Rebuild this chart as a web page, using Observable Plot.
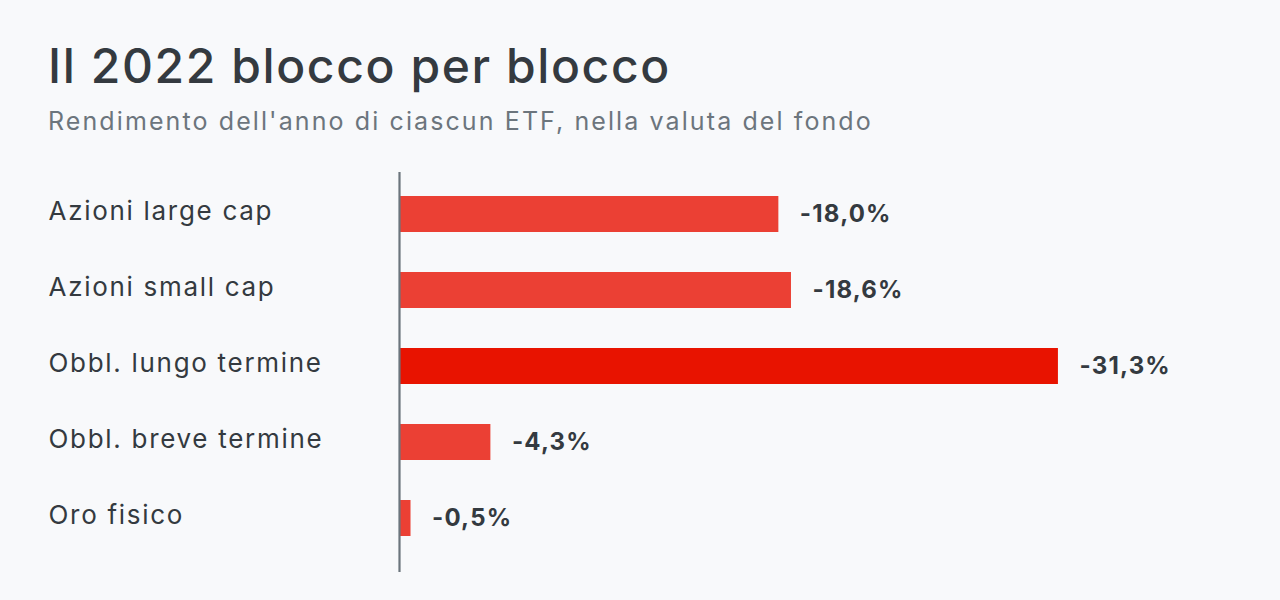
<!DOCTYPE html>
<html>
<head>
<meta charset="utf-8">
<script src="https://cdn.jsdelivr.net/npm/d3@7"></script>
<script src="https://cdn.jsdelivr.net/npm/@observablehq/plot@0.6"></script>
<style>
  html, body { margin: 0; padding: 0; background: #f8f9fb; }
  body { width: 1280px; height: 600px; position: relative; overflow: hidden; font-family: Inter, "Open Sans", sans-serif; }
  #title { position: absolute; left: 48px; top: 37px; font-size: 48px; line-height: 58px; font-weight: 500; color: #343a40; white-space: nowrap; letter-spacing: 1.6px; }
  #subtitle { position: absolute; left: 48px; top: 106px; font-size: 25px; line-height: 30px; font-weight: 400; color: #6c757d; white-space: nowrap; letter-spacing: 2.1px; }
  #chart { position: absolute; left: 0; top: 172px; }
</style>
</head>
<body>
<div id="title">Il 2022 blocco per blocco</div>
<div id="subtitle">Rendimento dell'anno di ciascun ETF, nella valuta del fondo</div>
<div id="chart"></div>
<script>
const categories = ["Azioni large cap", "Azioni small cap", "Obbl. lungo termine", "Obbl. breve termine", "Oro fisico"];
const returns = [-18.0, -18.6, -31.3, -4.3, -0.5];
const valueLabels = ["-18,0%", "-18,6%", "-31,3%", "-4,3%", "-0,5%"];

const data = categories.map((c, i) => ({
  cat: c,
  value: returns[i],
  mag: Math.abs(returns[i]),
  label: valueLabels[i],
  worst: Math.abs(returns[i]) === d3.max(returns, v => Math.abs(v))
}));

const chart = Plot.plot({
  width: 1280,
  height: 400,
  marginTop: 24,
  marginBottom: 36,
  marginLeft: 400,
  marginRight: 0,
  style: { background: "transparent", fontFamily: "Inter, sans-serif", overflow: "visible" },
  x: { domain: [0, 35], range: [400, 400 + 35 * 21.02], axis: null },
  y: { domain: categories, paddingInner: 40 / 76, paddingOuter: 0, axis: null },
  marks: [
    Plot.barX(data, {
      y: "cat", x1: 0, x2: "mag",
      fill: d => d.worst ? "#e81300" : "#eb4034"
    }),
    Plot.ruleX([0], { x: 0, dx: -1, stroke: "#6c757d", strokeWidth: 2.2, insetTop: -24, insetBottom: -36 }),
    Plot.text(data, {
      y: "cat", frameAnchor: "left", text: "cat", textAnchor: "start",
      dx: -352, dy: -3, fontSize: 26, fill: "#343a40", fontWeight: 400
    }),
    Plot.text(data, {
      y: "cat", x: "mag", text: "label", textAnchor: "start",
      dx: 21, dy: 0, fontSize: 24, fontWeight: 700, fill: "#343a40"
    })
  ]
});
const textGroups = d3.select(chart).selectAll('g[aria-label="text"]');
textGroups.each(function(_, i) {
  d3.select(this).style("letter-spacing", i === 0 ? "1.7px" : "1.2px");
});
document.getElementById("chart").appendChild(chart);
</script>
</body>
</html>
